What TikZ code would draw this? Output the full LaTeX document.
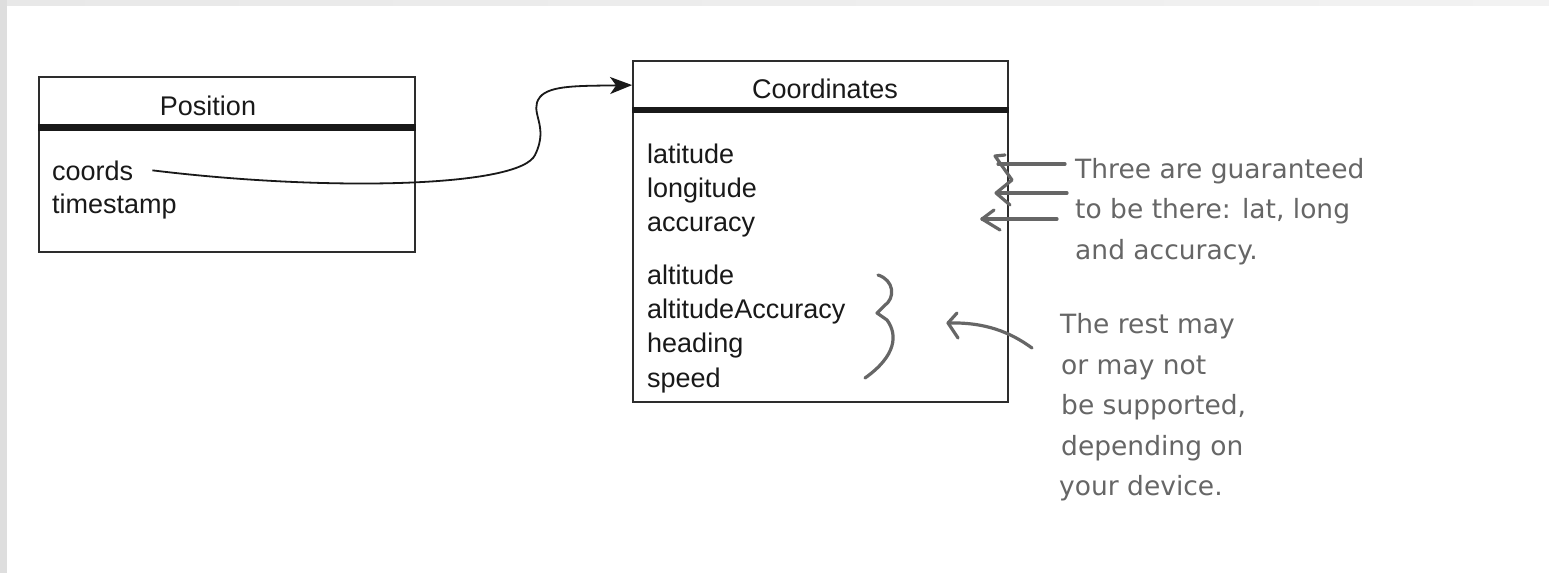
\documentclass[tikz,border=0pt]{standalone}
\usepackage{fontspec}
\setmainfont{Liberation Sans}
\newfontfamily\handfont{DejaVu Sans}
\usetikzlibrary{arrows.meta}
\definecolor{boxline}{RGB}{45,45,45}
\definecolor{ink}{RGB}{25,25,25}
\definecolor{hand}{RGB}{102,102,102}
\definecolor{stripgray}{RGB}{222,222,222}
\definecolor{topgrayA}{RGB}{232,232,232}
\definecolor{topgrayB}{RGB}{242,242,242}
\tikzset{
  umlbox/.style={draw=boxline, line width=1.8pt, inner sep=0pt, rectangle},
  hbar/.style={draw=ink, line width=#1},
  lbl/.style={inner sep=0pt, anchor=base west, text=ink, font=\fontsize{27}{34}\selectfont},
  ttl/.style={inner sep=0pt, anchor=base, text=ink, font=\fontsize{27}{34}\selectfont},
  note/.style={inner sep=0pt, anchor=base west, text=hand, font=\handfont\fontsize{26.5}{40}\selectfont},
  handline/.style={draw=hand, line width=3.2pt, line cap=round, line join=round},
  link/.style={draw=ink, line width=1.8pt, -{Stealth[length=22pt,width=17pt,inset=6pt]}},
}
\begin{document}
\begin{tikzpicture}[x=1pt,y=-1pt]
\useasboundingbox (0,0) rectangle (1549,573);
\fill[white] (0,0) rectangle (1549,573);
\fill[stripgray] (0,0) rectangle (7,573);
\shade[left color=topgrayA,right color=topgrayB] (7,0) rectangle (1549,5);

% boxes
\node[umlbox, minimum width=376pt, minimum height=175pt] (pos) at (227,164.5) {};
\node[umlbox, minimum width=375pt, minimum height=341pt] (coor) at (820.5,231.5) {};
\draw[hbar=7pt] ([yshift=-51pt]pos.north west) -- ([yshift=-51pt]pos.north east);
\draw[hbar=6pt] ([yshift=-50pt]coor.north west) -- ([yshift=-50pt]coor.north east);

% titles
\node[ttl] (posT) at (208,115) {Position};
\node[ttl] (coorT) at (825,98) {Coordinates};

% fields
\node[lbl] (coords) at (52,180) {coords};
\node[lbl] (timestamp) at (52,213) {timestamp};
\node[lbl] (lat) at (647,163) {latitude};
\node[lbl] (lon) at (647,197) {longitude};
\node[lbl] (acc) at (647,231) {accuracy};
\node[lbl] (alt) at (647,284) {altitude};
\node[lbl] (altacc) at (647,318) {altitudeAccuracy};
\node[lbl] (head) at (647,352) {heading};
\node[lbl] (speed) at (647,387) {speed};

% connector
\draw[link] ([xshift=19pt]coords.east) .. controls (330,192) and (520,187) .. (535,155)
  .. controls (550,125) and (528,112) .. (540,97)
  .. controls (550,85) and (580,86) .. ([yshift=-25pt]coor.north west);

% note 1
\node[note] (n1a) at (1075,178) {Three are guaranteed};
\node[note] (n1b) at (1075,218) {to be there: lat, long};
\node[note] (n1c) at (1075,259) {and accuracy.};

\coordinate (a1s) at (1065,164);
\coordinate (a1e) at (998,164);
\coordinate (a2s) at (1067,193);
\coordinate (a2e) at (999,193);
\coordinate (a3s) at (1057,219);
\coordinate (a3e) at (982,219);
\draw[handline] (a1s) -- (a1e);
\draw[handline] (a2s) -- (a2e);
\draw[handline] (a3s) -- (a3e);
\draw[handline] (1005,155) -- (995,156) -- (1012,180) -- (996,193) -- (1010,205);
\draw[handline] (994,210) -- (a3e) -- (1000,230);

% note 2
\node[note] (n2a) at (1060,333) {The rest may};
\node[note] (n2b) at (1061,374) {or may not};
\node[note] (n2c) at (1061,414) {be supported,};
\node[note] (n2d) at (1061,455) {depending on};
\node[note] (n2e) at (1059,495) {your device.};

\coordinate (b1s) at (1032,348);
\coordinate (b1e) at (948,323);
\draw[handline] (b1s) .. controls (1010,332) and (985,322) .. (b1e);
\draw[handline] (957,313) -- (b1e) -- (958,338);

% brace
\draw[handline] (878,275) .. controls (894,280) and (896,298) .. (884,306)
  -- (877,313) -- (887,320) .. controls (898,335) and (896,356) .. (865,378);
\end{tikzpicture}
\end{document}
